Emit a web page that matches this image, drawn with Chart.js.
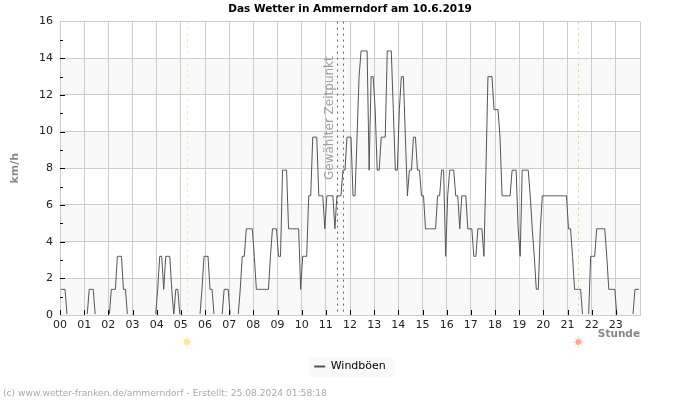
<!DOCTYPE html>
<html>
<head>
<meta charset="utf-8">
<title>Das Wetter in Ammerndorf</title>
<script src="https://cdn.jsdelivr.net/npm/chart.js@4"></script>
<style>
    html, body { margin: 0; padding: 0; background: #fff; }
    canvas { display: block; }
</style>
</head>
<body>
<canvas id="chartWetter" width="700" height="400"></canvas>
<script>
// Stundenbeschriftung der x-Achse
const stunden = ['00','01','02','03','04','05','06','07','08','09','10','11',
                 '12','13','14','15','16','17','18','19','20','21','22','23'];

// Windboeen in km/h, ein Wert alle 5 Minuten (12 pro Zeile = 1 Stunde)
const windboeen = [
    1.4,1.4,1.4,0,0,0,0,0,0,0,0,0,
    0,0,1.4,1.4,1.4,0,0,0,0,0,0,0,
    0,1.4,1.4,1.4,3.2,3.2,3.2,1.4,1.4,0,0,0,
    0,0,0,0,0,0,0,0,0,0,0,0,
    1.4,3.2,3.2,1.4,3.2,3.2,3.2,1.4,0,1.4,1.4,0,
    0,0,0,0,0,0,0,0,0,0,1.4,3.2,
    3.2,3.2,1.4,1.4,0,0,0,0,0,1.4,1.4,1.4,
    0,0,0,0,0,1.4,3.2,3.2,4.7,4.7,4.7,4.7,
    3.2,1.4,1.4,1.4,1.4,1.4,1.4,1.4,3.2,4.7,4.7,4.7,
    3.2,3.2,7.9,7.9,7.9,4.7,4.7,4.7,4.7,4.7,4.7,1.4,
    3.2,3.2,3.2,6.5,6.5,9.7,9.7,9.7,6.5,6.5,6.5,4.7,
    6.5,6.5,6.5,6.5,4.7,6.5,6.5,6.5,7.9,7.9,9.7,9.7,
    9.7,6.5,6.5,9.7,13,14.4,14.4,14.4,14.4,7.9,13,13,
    11.2,7.9,7.9,9.7,9.7,9.7,14.4,14.4,14.4,11.2,7.9,7.9,
    11.2,13,13,9.7,6.5,7.9,7.9,9.7,9.7,7.9,7.9,6.5,
    6.5,4.7,4.7,4.7,4.7,4.7,4.7,6.5,6.5,7.9,7.9,3.2,
    6.5,7.9,7.9,7.9,6.5,6.5,4.7,6.5,6.5,6.5,4.7,4.7,
    4.7,3.2,3.2,4.7,4.7,4.7,3.2,7.9,13,13,13,11.2,
    11.2,11.2,9.7,6.5,6.5,6.5,6.5,6.5,7.9,7.9,7.9,4.7,
    3.2,7.9,7.9,7.9,7.9,6.5,4.7,3.2,1.4,1.4,4.7,6.5,
    6.5,6.5,6.5,6.5,6.5,6.5,6.5,6.5,6.5,6.5,6.5,6.5,
    4.7,4.7,3.2,1.4,1.4,1.4,1.4,0,0,0,0,3.2,
    3.2,3.2,4.7,4.7,4.7,4.7,4.7,3.2,1.4,1.4,1.4,1.4,
    0,0,0,0,0,0,0,0,0,1.4,1.4,1.4
];

// Zeitmarken in Stunden
const sonnenaufgang = 5.25;
const sonnenuntergang = 21.45;
const zeitpunkt = [11.45, 11.7];

// Bereiche mit grauem Hintergrund (km/h)
const baender = [[0, 2], [4, 6], [8, 10], [12, 14]];

const schrift = '"DejaVu Sans", sans-serif';

function sonne(ctx, x, y, farbe) {
    ctx.save();
    ctx.strokeStyle = farbe;
    ctx.fillStyle = farbe;
    ctx.globalAlpha = 0.55;
    for (let i = 0; i < 8; i++) {
        const w = i * Math.PI / 4;
        ctx.beginPath();
        ctx.moveTo(x + Math.cos(w) * 3, y + Math.sin(w) * 3);
        ctx.lineTo(x + Math.cos(w) * 6, y + Math.sin(w) * 6);
        ctx.stroke();
    }
    ctx.globalAlpha = 1;
    ctx.beginPath();
    ctx.arc(x, y, 3, 0, Math.PI * 2);
    ctx.fill();
    ctx.restore();
}

function senkrecht(ctx, area, x, farbe) {
    ctx.save();
    ctx.strokeStyle = farbe;
    ctx.setLineDash([2, 4]);
    ctx.beginPath();
    ctx.moveTo(Math.round(x) + 0.5, area.top);
    ctx.lineTo(Math.round(x) + 0.5, area.bottom);
    ctx.stroke();
    ctx.restore();
}

// Hintergrund-Baender und Legendenkasten
const hintergrund = {
    id: 'hintergrund',
    beforeDraw(chart) {
        const { ctx, chartArea, scales, legend } = chart;
        ctx.save();
        ctx.fillStyle = '#f9f9f9';
        baender.forEach(b => {
            const oben = scales.y.getPixelForValue(b[1]);
            const unten = scales.y.getPixelForValue(b[0]);
            ctx.fillRect(chartArea.left, oben, chartArea.right - chartArea.left, unten - oben);
        });
        const hb = legend.legendHitBoxes[0];
        ctx.fillRect(hb.left - 5, 358, hb.width + 13, 19);
        ctx.restore();
    },
    afterDraw(chart) {
        const { ctx, chartArea, scales } = chart;
        const x = scales.x, y = scales.y;

        // Markierungen nach innen
        ctx.save();
        ctx.strokeStyle = '#000';
        ctx.lineWidth = 1;
        ctx.beginPath();
        for (let v = 1; v < 16; v++) {
            const py = Math.round(y.getPixelForValue(v)) + 0.5;
            ctx.moveTo(chartArea.left, py);
            ctx.lineTo(chartArea.left + (v % 2 ? 3 : 5), py);
        }
        stunden.forEach((s, i) => {
            const px = Math.round(x.getPixelForValue(i)) + 0.5;
            ctx.moveTo(px, chartArea.bottom);
            ctx.lineTo(px, chartArea.bottom - 5);
        });
        ctx.stroke();
        ctx.restore();

        senkrecht(ctx, chartArea, x.getPixelForValue(sonnenaufgang), '#f0e68c');
        senkrecht(ctx, chartArea, x.getPixelForValue(sonnenuntergang), '#f0c080');
        zeitpunkt.forEach(t => senkrecht(ctx, chartArea, x.getPixelForValue(t), '#666'));

        sonne(ctx, x.getPixelForValue(sonnenaufgang), chartArea.bottom + 27, '#fde59a');
        sonne(ctx, x.getPixelForValue(sonnenuntergang), chartArea.bottom + 27, '#ffab94');

        // Gewaehlter Zeitpunkt
        ctx.save();
        ctx.translate(x.getPixelForValue(zeitpunkt[0]) - 1, 180);
        ctx.rotate(-Math.PI / 2);
        ctx.fillStyle = '#a0a0a0';
        ctx.font = '12px ' + schrift;
        ctx.textAlign = 'left';
        ctx.textBaseline = 'bottom';
        ctx.fillText('Gewählter Zeitpunkt', 0, 0);
        ctx.restore();
    }
};

new Chart(document.getElementById('chartWetter'), {
    type: 'line',
    data: {
        datasets: [{
            label: 'Windböen',
            data: windboeen.map((v, i) => ({ x: (i + 0.5) / 12, y: v })),
            borderColor: '#555555',
            backgroundColor: '#555555',
            borderWidth: 1,
            pointRadius: 0,
            tension: 0,
            clip: { left: 0, right: 0, top: 0, bottom: -1 },
            yAxisID: 'y'
        }]
    },
    options: {
        responsive: false,
        animation: false,
        layout: { padding: { left: 3, right: 3, top: 0, bottom: 0 } },
        plugins: {
            title: {
                display: true,
                text: 'Das Wetter in Ammerndorf am 10.6.2019',
                color: '#000',
                font: { family: schrift, size: 10.5, weight: 'bold' },
                padding: { top: 3, bottom: 6 }
            },
            subtitle: {
                display: true,
                position: 'bottom',
                align: 'start',
                text: '(c) www.wetter-franken.de/ammerndorf - Erstellt: 25.08.2024 01:58:18',
                color: '#aaaaaa',
                font: { family: schrift, size: 9.15 },
                padding: { top: 6, bottom: 1 }
            },
            legend: {
                position: 'bottom',
                labels: {
                    color: '#000',
                    font: { family: schrift, size: 11 },
                    usePointStyle: true,
                    pointStyle: 'line',
                    pointStyleWidth: 11,
                    boxHeight: 12,
                    padding: 5,
                    generateLabels(chart) {
                        return Chart.defaults.plugins.legend.labels.generateLabels(chart)
                            .map(l => Object.assign(l, { lineWidth: 2 }));
                    }
                }
            },
            tooltip: { enabled: false }
        },
        scales: {
            x: {
                type: 'linear',
                min: 0,
                max: 24,
                afterBuildTicks(axis) {
                    axis.ticks = stunden.map((s, i) => ({ value: i })).concat([{ value: 24 }]);
                },
                grid: { color: '#cccccc', lineWidth: 1, drawTicks: false },
                border: { color: '#cccccc', z: 1 },
                ticks: {
                    autoSkip: false,
                    maxRotation: 0,
                    padding: 4,
                    color: '#222',
                    font: { family: schrift, size: 11 },
                    callback: v => stunden[v] || ''
                },
                title: {
                    display: true,
                    text: 'Stunde',
                    align: 'end',
                    color: '#888888',
                    font: { family: schrift, size: 10.5, weight: 'bold' },
                    padding: { top: 0, bottom: 15 }
                },
                afterFit(axis) { axis.height = 41; }
            },
            y: {
                min: 0,
                max: 16,
                grid: { color: '#cccccc', lineWidth: 1, drawTicks: false },
                border: { color: '#cccccc' },
                ticks: {
                    stepSize: 2,
                    padding: 7,
                    color: '#222',
                    font: { family: schrift, size: 11 }
                },
                title: {
                    display: true,
                    text: 'km/h',
                    color: '#888888',
                    font: { family: schrift, size: 11, weight: 'bold' },
                    padding: { top: 6, bottom: 0 }
                },
                afterFit(axis) { axis.width = 57; }
            },
            // leere Achse, damit rechts 60px Rand bleiben
            rechts: {
                position: 'right',
                grid: { display: false },
                border: { display: false },
                ticks: { display: false },
                afterFit(axis) { axis.width = 57; }
            }
        }
    },
    plugins: [hintergrund]
});
</script>
</body>
</html>
